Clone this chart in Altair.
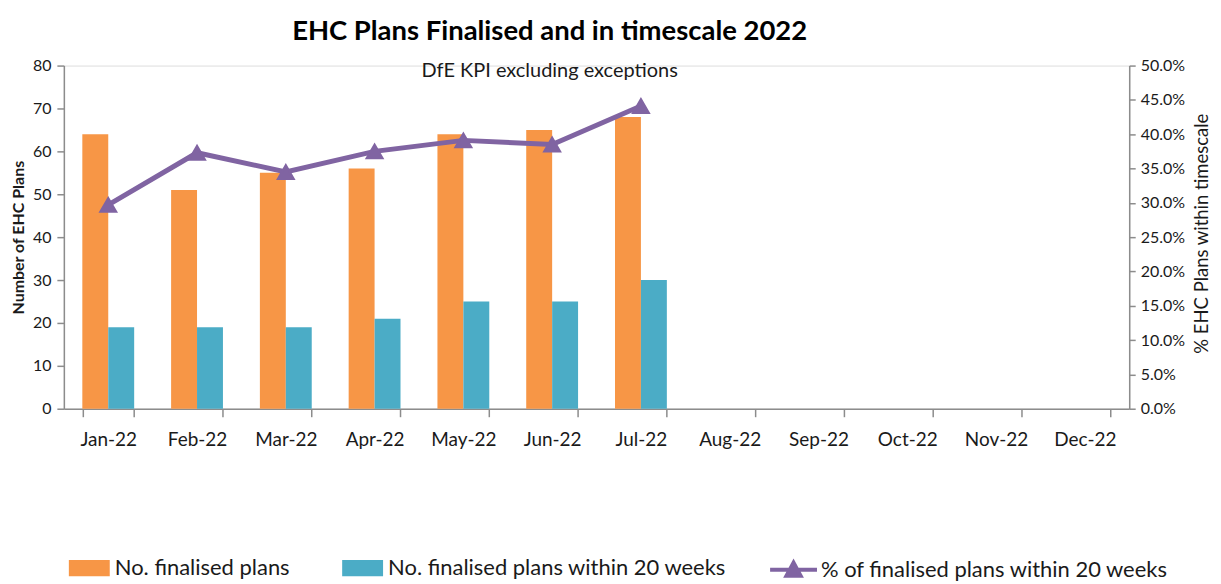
import altair as alt
import pandas as pd

months = ["Jan-22", "Feb-22", "Mar-22", "Apr-22", "May-22", "Jun-22",
          "Jul-22", "Aug-22", "Sep-22", "Oct-22", "Nov-22", "Dec-22"]
data_months = ["Jan-22", "Feb-22", "Mar-22", "Apr-22", "May-22", "Jun-22", "Jul-22"]
finalised = [64, 51, 55, 56, 64, 65, 68]
within20 = [19, 19, 19, 21, 25, 25, 30]
pct_within = [0.297, 0.373, 0.345, 0.375, 0.391, 0.385, 0.441]

s1 = "No. finalised plans"
s2 = "No. finalised plans within 20 weeks"
s3 = "% of finalised plans within 20 weeks"

ORANGE = "#F79646"
TEAL = "#4BACC6"
PURPLE = "#8064A2"
AXIS = "#8c8c8c"
TXT = "#1a1a1a"
FONT = "Lato"

bars_df = pd.DataFrame({
    "month": data_months * 2,
    "series": [s1] * len(data_months) + [s2] * len(data_months),
    "value": finalised + within20,
})
line_df = pd.DataFrame({"month": data_months, "pct": pct_within, "series": s3})

xscale = alt.Scale(domain=months, paddingInner=0.416, paddingOuter=0.208)
xaxis = alt.Axis(title=None, labelFontSize=19, labelFont=FONT, labelColor=TXT,
                 tickBand="extent", tickSize=8, tickColor=AXIS, domainColor=AXIS,
                 domainWidth=1.5, tickWidth=1.5, labelPadding=14, labelAngle=0, grid=False)

bars = alt.Chart(bars_df).mark_bar().encode(
    x=alt.X("month:N", scale=xscale, axis=xaxis, sort=months),
    xOffset=alt.XOffset("series:N", sort=[s1, s2], scale=alt.Scale(paddingInner=0, paddingOuter=0)),
    y=alt.Y("value:Q", scale=alt.Scale(domain=[0, 80]),
            axis=alt.Axis(title="Number of EHC Plans", values=list(range(0, 81, 10)),
                          titleFontSize=16, titleFont=FONT, titleFontWeight="bold", titleColor=TXT,
                          labelFontSize=16, labelFont=FONT, labelColor=TXT, tickSize=7,
                          tickColor=AXIS, domainColor=AXIS, domainWidth=1.5, tickWidth=1.5,
                          labelPadding=6, titlePadding=6, grid=False)),
    fill=alt.Fill("series:N", scale=alt.Scale(domain=[s1, s2], range=[ORANGE, TEAL]),
                  legend=alt.Legend(title=None, orient="none", direction="horizontal",
                                    legendX=5, legendY=483,
                                    symbolType="M-1,-0.4L1,-0.4L1,0.4L-1,0.4Z",
                                    symbolSize=1681, labelFontSize=22, labelFont=FONT,
                                    labelColor=TXT, columnPadding=52, labelOffset=5,
                                    labelLimit=0, symbolStrokeWidth=0, padding=0)),
)

line = alt.Chart(line_df).mark_line(
    strokeWidth=5,
    point=alt.OverlayMarkDef(shape="triangle-up", size=260, filled=True, color=PURPLE),
).encode(
    x=alt.X("month:N", scale=xscale, sort=months),
    y=alt.Y("pct:Q", scale=alt.Scale(domain=[0, 0.5]),
            axis=alt.Axis(title="% EHC Plans within timescale", orient="right", format=".1%",
                          values=[i / 20 for i in range(11)], titleFontSize=18.5, titleFont=FONT,
                          titleFontWeight="normal", titleColor=TXT, titleAngle=270,
                          titleBaseline="top", titleAlign="center",
                          labelFontSize=16, labelFont=FONT, labelColor=TXT, tickSize=6,
                          tickColor=AXIS, domainColor=AXIS, domainWidth=1.5, tickWidth=1.5,
                          labelPadding=5, titlePadding=8, titleY=168, grid=False)),
    stroke=alt.Stroke("series:N", scale=alt.Scale(domain=[s3], range=[PURPLE]),
                      legend=alt.Legend(title=None, orient="none", legendX=706, legendY=480,
                                        symbolType="M-1,0L1,0M0,-0.3L0.3,0.25L-0.3,0.25Z",
                                        symbolSize=2209, symbolStrokeWidth=4,
                                        symbolFillColor=PURPLE, labelFontSize=22,
                                        labelFont=FONT, labelColor=TXT, labelOffset=2,
                                        labelLimit=0, padding=0)),
)

chart = alt.layer(bars, line).resolve_scale(y="independent", fill="independent", stroke="independent").properties(
    width=1068, height=344,
    padding={"left": 2, "right": 2, "top": 9, "bottom": 2},
    title=alt.TitleParams(text="EHC Plans Finalised and in timescale 2022",
                          subtitle="DfE KPI excluding exceptions",
                          font=FONT, fontSize=27.5, fontWeight="bold", color="#000000",
                          subtitleFont=FONT, subtitleFontSize=20, subtitleColor=TXT,
                          subtitlePadding=15.5, anchor="middle", dx=-47, offset=-23),
).configure_view(stroke=None).configure(background="white")

chart.save("out.html", embed_options={"renderer": "svg", "actions": False})
